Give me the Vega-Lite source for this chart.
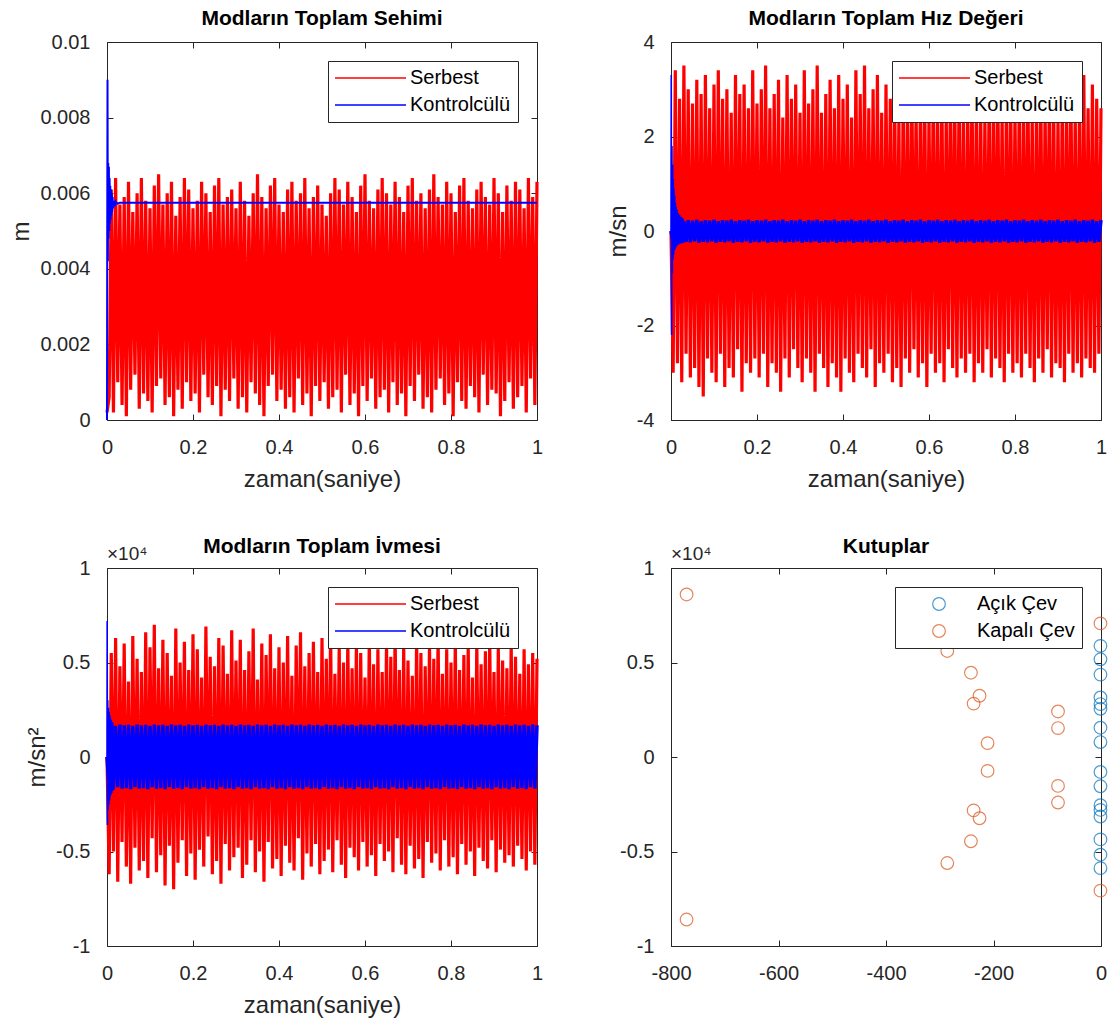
{
  "$schema": "https://vega.github.io/schema/vega-lite/v6.json",
  "background": "#ffffff",
  "padding": {"left": 9, "top": 7, "right": 10, "bottom": 10},
  "columns": 2,
  "spacing": {"row": 148, "column": 134},
  "bounds": "flush",
  "resolve": {
    "scale": {"x": "independent", "y": "independent", "color": "independent"},
    "axis": {"x": "independent", "y": "independent"},
    "legend": {"color": "independent"}
  },
  "config": {
    "view": {"stroke": "#262626", "strokeWidth": 1},
    "axis": {
      "labelFont": "Liberation Sans", "labelFontSize": 20, "labelColor": "#262626",
      "titleFont": "Liberation Sans", "titleFontSize": 24, "titleFontWeight": "normal", "titleColor": "#262626",
      "tickColor": "#262626", "tickSize": -6, "tickWidth": 1,
      "labelPadding": 23,
      "labelFlush": false, "labelOverlap": false,
      "domain": false, "grid": false
    },
    "axisX": {"titlePadding": 10},
    "axisY": {"titlePadding": 6},
    "title": {"font": "Liberation Sans", "fontSize": 21, "fontWeight": "bold", "color": "#000000", "offset": 3},
    "legend": {
      "orient": "top-right", "offset": 19, "padding": 7, "rowPadding": 7,
      "strokeColor": "#262626", "fillColor": "#ffffff",
      "labelFont": "Liberation Sans", "labelFontSize": 20, "labelColor": "#000000", "labelLimit": 400
    }
  },
  "datasets": {
    "sehim": [
      {"t":0,"s":0.0002},
      {"t":0.005,"s":0.0006},{"t":0.01,"s":0.0061},{"t":0.015,"s":0.0002},{"t":0.02,"s":0.0064},
      {"t":0.025,"s":0.001},{"t":0.03,"s":0.0057},{"t":0.035,"s":0.0004},{"t":0.04,"s":0.0059},
      {"t":0.045,"s":0.0001},{"t":0.05,"s":0.0063},{"t":0.055,"s":0.0008},{"t":0.06,"s":0.0055},
      {"t":0.065,"s":0.0012},{"t":0.07,"s":0.006},{"t":0.075,"s":0.0003},{"t":0.08,"s":0.0064},
      {"t":0.085,"s":0.0007},{"t":0.09,"s":0.0058},{"t":0.095,"s":0.0005},{"t":0.1,"s":0.0056},
      {"t":0.105,"s":0.0002},{"t":0.11,"s":0.0062},{"t":0.115,"s":0.0009},{"t":0.12,"s":0.0065},
      {"t":0.125,"s":0.0011},{"t":0.13,"s":0.0057},{"t":0.135,"s":0.0004},{"t":0.14,"s":0.006},
      {"t":0.145,"s":0.0006},{"t":0.15,"s":0.0063},{"t":0.155,"s":0.0001},{"t":0.16,"s":0.0054},
      {"t":0.165,"s":0.0008},{"t":0.17,"s":0.0059},{"t":0.175,"s":0.0003},{"t":0.18,"s":0.0064},
      {"t":0.185,"s":0.001},{"t":0.19,"s":0.0061},{"t":0.195,"s":0.0005},{"t":0.2,"s":0.0056},
      {"t":0.205,"s":0.0007},{"t":0.21,"s":0.0058},{"t":0.215,"s":0.0002},{"t":0.22,"s":0.0063},
      {"t":0.225,"s":0.0012},{"t":0.23,"s":0.006},{"t":0.235,"s":0.0006},{"t":0.24,"s":0.0055},
      {"t":0.245,"s":0.0004},{"t":0.25,"s":0.0062},{"t":0.255,"s":0.0009},{"t":0.26,"s":0.0064},
      {"t":0.265,"s":0.0001},{"t":0.27,"s":0.0057},{"t":0.275,"s":0.0008},{"t":0.28,"s":0.0059},
      {"t":0.285,"s":0.0005},{"t":0.29,"s":0.0061},{"t":0.295,"s":0.0011},{"t":0.3,"s":0.0056},
      {"t":0.305,"s":0.0003},{"t":0.31,"s":0.0063},{"t":0.315,"s":0.0006},{"t":0.32,"s":0.0058},
      {"t":0.325,"s":0.0002},{"t":0.33,"s":0.0054},{"t":0.335,"s":0.001},{"t":0.34,"s":0.006},
      {"t":0.345,"s":0.0007},{"t":0.35,"s":0.0065},{"t":0.355,"s":0.0004},{"t":0.36,"s":0.0059},
      {"t":0.365,"s":0.0001},{"t":0.37,"s":0.0056},{"t":0.375,"s":0.0009},{"t":0.38,"s":0.0062},
      {"t":0.385,"s":0.0012},{"t":0.39,"s":0.0064},{"t":0.395,"s":0.0005},{"t":0.4,"s":0.0057},
      {"t":0.405,"s":0.0008},{"t":0.41,"s":0.0055},{"t":0.415,"s":0.0003},{"t":0.42,"s":0.0061},
      {"t":0.425,"s":0.0006},{"t":0.43,"s":0.0063},{"t":0.435,"s":0.0002},{"t":0.44,"s":0.0058},
      {"t":0.445,"s":0.0011},{"t":0.45,"s":0.006},{"t":0.455,"s":0.0004},{"t":0.46,"s":0.0064},
      {"t":0.465,"s":0.0007},{"t":0.47,"s":0.0056},{"t":0.475,"s":0.0001},{"t":0.48,"s":0.0059},
      {"t":0.485,"s":0.0009},{"t":0.49,"s":0.0062},{"t":0.495,"s":0.0005},{"t":0.5,"s":0.0057},
      {"t":0.505,"s":0.001},{"t":0.51,"s":0.0054},{"t":0.515,"s":0.0003},{"t":0.52,"s":0.006},
      {"t":0.525,"s":0.0006},{"t":0.53,"s":0.0064},{"t":0.535,"s":0.0008},{"t":0.54,"s":0.0061},
      {"t":0.545,"s":0.0002},{"t":0.55,"s":0.0057},{"t":0.555,"s":0.0012},{"t":0.56,"s":0.0063},
      {"t":0.565,"s":0.0004},{"t":0.57,"s":0.0059},{"t":0.575,"s":0.0007},{"t":0.58,"s":0.0055},
      {"t":0.585,"s":0.0001},{"t":0.59,"s":0.0062},{"t":0.595,"s":0.0009},{"t":0.6,"s":0.0065},
      {"t":0.605,"s":0.0005},{"t":0.61,"s":0.0058},{"t":0.615,"s":0.0011},{"t":0.62,"s":0.0056},
      {"t":0.625,"s":0.0003},{"t":0.63,"s":0.0061},{"t":0.635,"s":0.0006},{"t":0.64,"s":0.0064},
      {"t":0.645,"s":0.0008},{"t":0.65,"s":0.006},{"t":0.655,"s":0.0002},{"t":0.66,"s":0.0057},
      {"t":0.665,"s":0.001},{"t":0.67,"s":0.0063},{"t":0.675,"s":0.0004},{"t":0.68,"s":0.0059},
      {"t":0.685,"s":0.0007},{"t":0.69,"s":0.0055},{"t":0.695,"s":0.0001},{"t":0.7,"s":0.0062},
      {"t":0.705,"s":0.0009},{"t":0.71,"s":0.0064},{"t":0.715,"s":0.0005},{"t":0.72,"s":0.0058},
      {"t":0.725,"s":0.0012},{"t":0.73,"s":0.006},{"t":0.735,"s":0.0003},{"t":0.74,"s":0.0056},
      {"t":0.745,"s":0.0006},{"t":0.75,"s":0.0061},{"t":0.755,"s":0.0002},{"t":0.76,"s":0.0065},
      {"t":0.765,"s":0.0008},{"t":0.77,"s":0.0059},{"t":0.775,"s":0.0011},{"t":0.78,"s":0.0057},
      {"t":0.785,"s":0.0004},{"t":0.79,"s":0.0063},{"t":0.795,"s":0.0007},{"t":0.8,"s":0.006},
      {"t":0.805,"s":0.0001},{"t":0.81,"s":0.0055},{"t":0.815,"s":0.001},{"t":0.82,"s":0.0062},
      {"t":0.825,"s":0.0005},{"t":0.83,"s":0.0064},{"t":0.835,"s":0.0003},{"t":0.84,"s":0.0058},
      {"t":0.845,"s":0.0009},{"t":0.85,"s":0.0056},{"t":0.855,"s":0.0006},{"t":0.86,"s":0.0061},
      {"t":0.865,"s":0.0002},{"t":0.87,"s":0.0063},{"t":0.875,"s":0.0012},{"t":0.88,"s":0.0059},
      {"t":0.885,"s":0.0004},{"t":0.89,"s":0.0057},{"t":0.895,"s":0.0008},{"t":0.9,"s":0.0064},
      {"t":0.905,"s":0.0007},{"t":0.91,"s":0.006},{"t":0.915,"s":0.0001},{"t":0.92,"s":0.0055},
      {"t":0.925,"s":0.0005},{"t":0.93,"s":0.0062},{"t":0.935,"s":0.001},{"t":0.94,"s":0.0058},
      {"t":0.945,"s":0.0003},{"t":0.95,"s":0.0063},{"t":0.955,"s":0.0006},{"t":0.96,"s":0.0061},
      {"t":0.965,"s":0.0009},{"t":0.97,"s":0.0056},{"t":0.975,"s":0.0002},{"t":0.98,"s":0.0064},
      {"t":0.985,"s":0.0011},{"t":0.99,"s":0.0059},{"t":0.995,"s":0.0004},{"t":1,"s":0.0063}
    ],
    "sehimK": [
      {"t":0,"v":0},{"t":0.0005,"v":0.0045},{"t":0.0012,"v":0.009},{"t":0.002,"v":0.0042},
      {"t":0.0028,"v":0.0068},{"t":0.0036,"v":0.0048},{"t":0.0044,"v":0.0067},{"t":0.0052,"v":0.005},
      {"t":0.006,"v":0.0064},{"t":0.0068,"v":0.0052},{"t":0.0076,"v":0.0062},{"t":0.0084,"v":0.0053},
      {"t":0.0092,"v":0.0061},{"t":0.01,"v":0.0054},{"t":0.011,"v":0.006},{"t":0.012,"v":0.0055},
      {"t":0.013,"v":0.0059},{"t":0.014,"v":0.0056},{"t":0.016,"v":0.0058},{"t":0.018,"v":0.00565},
      {"t":0.02,"v":0.00578},{"t":0.024,"v":0.00572},{"t":0.03,"v":0.00575},{"t":1,"v":0.00575}
    ],
    "hiz": [
      {"t":0,"s":0,"k":0},
      {"t":0.005,"s":-3,"k":-0.24},{"t":0.01,"s":3.4,"k":0.22},
      {"t":0.015,"s":-2.8,"k":-0.22},{"t":0.02,"s":2.8,"k":0.24},
      {"t":0.025,"s":-3.2,"k":-0.25},{"t":0.03,"s":3.5,"k":0.21},
      {"t":0.035,"s":-2.6,"k":-0.23},{"t":0.04,"s":3,"k":0.23},
      {"t":0.045,"s":-3.1,"k":-0.24},{"t":0.05,"s":2.7,"k":0.22},
      {"t":0.055,"s":-2.9,"k":-0.22},{"t":0.06,"s":3.2,"k":0.24},
      {"t":0.065,"s":-3.3,"k":-0.25},{"t":0.07,"s":2.9,"k":0.21},
      {"t":0.075,"s":-3.5,"k":-0.23},{"t":0.08,"s":3.3,"k":0.23},
      {"t":0.085,"s":-2.7,"k":-0.24},{"t":0.09,"s":2.6,"k":0.22},
      {"t":0.095,"s":-3,"k":-0.22},{"t":0.1,"s":3.1,"k":0.24},
      {"t":0.105,"s":-3.2,"k":-0.25},{"t":0.11,"s":3.4,"k":0.21},
      {"t":0.115,"s":-2.6,"k":-0.23},{"t":0.12,"s":2.8,"k":0.23},
      {"t":0.125,"s":-3.3,"k":-0.24},{"t":0.13,"s":3,"k":0.22},
      {"t":0.135,"s":-2.9,"k":-0.22},{"t":0.14,"s":2.5,"k":0.24},
      {"t":0.145,"s":-3.1,"k":-0.25},{"t":0.15,"s":3.3,"k":0.21},
      {"t":0.155,"s":-2.5,"k":-0.23},{"t":0.16,"s":2.9,"k":0.23},
      {"t":0.165,"s":-3.4,"k":-0.24},{"t":0.17,"s":3.1,"k":0.22},
      {"t":0.175,"s":-2.8,"k":-0.22},{"t":0.18,"s":2.6,"k":0.24},
      {"t":0.185,"s":-3,"k":-0.25},{"t":0.19,"s":3.4,"k":0.21},
      {"t":0.195,"s":-2.7,"k":-0.23},{"t":0.2,"s":2.7,"k":0.23},
      {"t":0.205,"s":-3.1,"k":-0.24},{"t":0.21,"s":3,"k":0.22},
      {"t":0.215,"s":-2.6,"k":-0.22},{"t":0.22,"s":3.5,"k":0.24},
      {"t":0.225,"s":-3.3,"k":-0.25},{"t":0.23,"s":2.6,"k":0.21},
      {"t":0.235,"s":-2.8,"k":-0.23},{"t":0.24,"s":2.9,"k":0.23},
      {"t":0.245,"s":-3,"k":-0.24},{"t":0.25,"s":3.2,"k":0.22},
      {"t":0.255,"s":-3.4,"k":-0.22},{"t":0.26,"s":2.4,"k":0.24},
      {"t":0.265,"s":-2.7,"k":-0.25},{"t":0.27,"s":3.3,"k":0.21},
      {"t":0.275,"s":-3.1,"k":-0.23},{"t":0.28,"s":2.8,"k":0.23},
      {"t":0.285,"s":-2.5,"k":-0.24},{"t":0.29,"s":3.1,"k":0.22},
      {"t":0.295,"s":-2.9,"k":-0.22},{"t":0.3,"s":2.5,"k":0.24},
      {"t":0.305,"s":-3.2,"k":-0.25},{"t":0.31,"s":3.4,"k":0.21},
      {"t":0.315,"s":-2.7,"k":-0.23},{"t":0.32,"s":2.7,"k":0.23},
      {"t":0.325,"s":-3,"k":-0.24},{"t":0.33,"s":3,"k":0.22},
      {"t":0.335,"s":-3.4,"k":-0.22},{"t":0.34,"s":3.5,"k":0.24},
      {"t":0.345,"s":-2.6,"k":-0.25},{"t":0.35,"s":2.5,"k":0.21},
      {"t":0.355,"s":-2.9,"k":-0.23},{"t":0.36,"s":2.9,"k":0.23},
      {"t":0.365,"s":-3.3,"k":-0.24},{"t":0.37,"s":3.2,"k":0.22},
      {"t":0.375,"s":-2.8,"k":-0.22},{"t":0.38,"s":2.6,"k":0.24},
      {"t":0.385,"s":-3.1,"k":-0.25},{"t":0.39,"s":3.3,"k":0.21},
      {"t":0.395,"s":-3.4,"k":-0.23},{"t":0.4,"s":2.8,"k":0.23},
      {"t":0.405,"s":-2.7,"k":-0.24},{"t":0.41,"s":3.1,"k":0.22},
      {"t":0.415,"s":-3,"k":-0.22},{"t":0.42,"s":2.4,"k":0.24},
      {"t":0.425,"s":-3.2,"k":-0.25},{"t":0.43,"s":3.4,"k":0.21},
      {"t":0.435,"s":-2.6,"k":-0.23},{"t":0.44,"s":2.9,"k":0.23},
      {"t":0.445,"s":-2.9,"k":-0.24},{"t":0.45,"s":3.5,"k":0.22},
      {"t":0.455,"s":-3.1,"k":-0.22},{"t":0.46,"s":2.6,"k":0.24},
      {"t":0.465,"s":-2.5,"k":-0.25},{"t":0.47,"s":3,"k":0.21},
      {"t":0.475,"s":-3.3,"k":-0.23},{"t":0.48,"s":3.3,"k":0.23},
      {"t":0.485,"s":-2.8,"k":-0.24},{"t":0.49,"s":2.5,"k":0.22},
      {"t":0.495,"s":-3,"k":-0.22},{"t":0.5,"s":3.1,"k":0.24},
      {"t":0.505,"s":-2.6,"k":-0.25},{"t":0.51,"s":2.8,"k":0.21},
      {"t":0.515,"s":-3.2,"k":-0.23},{"t":0.52,"s":3.2,"k":0.23},
      {"t":0.525,"s":-2.9,"k":-0.24},{"t":0.53,"s":2.4,"k":0.22},
      {"t":0.535,"s":-3.3,"k":-0.22},{"t":0.54,"s":3,"k":0.24},
      {"t":0.545,"s":-2.7,"k":-0.25},{"t":0.55,"s":2.7,"k":0.21},
      {"t":0.555,"s":-3,"k":-0.23},{"t":0.56,"s":3.3,"k":0.23},
      {"t":0.565,"s":-2.5,"k":-0.24},{"t":0.57,"s":2.6,"k":0.22},
      {"t":0.575,"s":-3.1,"k":-0.22},{"t":0.58,"s":2.9,"k":0.24},
      {"t":0.585,"s":-2.8,"k":-0.25},{"t":0.59,"s":3.1,"k":0.21},
      {"t":0.595,"s":-3.3,"k":-0.23},{"t":0.6,"s":2.5,"k":0.23},
      {"t":0.605,"s":-2.6,"k":-0.24},{"t":0.61,"s":3.2,"k":0.22},
      {"t":0.615,"s":-3,"k":-0.22},{"t":0.62,"s":2.7,"k":0.24},
      {"t":0.625,"s":-2.8,"k":-0.25},{"t":0.63,"s":3,"k":0.21},
      {"t":0.635,"s":-3.2,"k":-0.23},{"t":0.64,"s":2.5,"k":0.23},
      {"t":0.645,"s":-2.5,"k":-0.24},{"t":0.65,"s":3.3,"k":0.22},
      {"t":0.655,"s":-2.9,"k":-0.22},{"t":0.66,"s":2.8,"k":0.24},
      {"t":0.665,"s":-3.1,"k":-0.25},{"t":0.67,"s":3.1,"k":0.21},
      {"t":0.675,"s":-2.7,"k":-0.23},{"t":0.68,"s":2.6,"k":0.23},
      {"t":0.685,"s":-3,"k":-0.24},{"t":0.69,"s":2.9,"k":0.22},
      {"t":0.695,"s":-2.6,"k":-0.22},{"t":0.7,"s":3.2,"k":0.24},
      {"t":0.705,"s":-3.2,"k":-0.25},{"t":0.71,"s":2.6,"k":0.21},
      {"t":0.715,"s":-2.8,"k":-0.23},{"t":0.72,"s":3,"k":0.23},
      {"t":0.725,"s":-3,"k":-0.24},{"t":0.73,"s":2.4,"k":0.22},
      {"t":0.735,"s":-2.5,"k":-0.22},{"t":0.74,"s":3.1,"k":0.24},
      {"t":0.745,"s":-3.1,"k":-0.25},{"t":0.75,"s":2.8,"k":0.21},
      {"t":0.755,"s":-2.7,"k":-0.23},{"t":0.76,"s":3.2,"k":0.23},
      {"t":0.765,"s":-2.9,"k":-0.24},{"t":0.77,"s":2.5,"k":0.22},
      {"t":0.775,"s":-3.2,"k":-0.22},{"t":0.78,"s":2.9,"k":0.24},
      {"t":0.785,"s":-2.6,"k":-0.25},{"t":0.79,"s":3,"k":0.21},
      {"t":0.795,"s":-3,"k":-0.23},{"t":0.8,"s":2.6,"k":0.23},
      {"t":0.805,"s":-2.8,"k":-0.24},{"t":0.81,"s":3.1,"k":0.22},
      {"t":0.815,"s":-3.1,"k":-0.22},{"t":0.82,"s":2.7,"k":0.24},
      {"t":0.825,"s":-2.6,"k":-0.25},{"t":0.83,"s":3.2,"k":0.21},
      {"t":0.835,"s":-2.9,"k":-0.23},{"t":0.84,"s":2.5,"k":0.23},
      {"t":0.845,"s":-3.2,"k":-0.24},{"t":0.85,"s":2.9,"k":0.22},
      {"t":0.855,"s":-2.7,"k":-0.22},{"t":0.86,"s":3,"k":0.24},
      {"t":0.865,"s":-3,"k":-0.25},{"t":0.87,"s":2.6,"k":0.21},
      {"t":0.875,"s":-2.5,"k":-0.23},{"t":0.88,"s":3.2,"k":0.23},
      {"t":0.885,"s":-3.1,"k":-0.24},{"t":0.89,"s":2.8,"k":0.22},
      {"t":0.895,"s":-2.8,"k":-0.22},{"t":0.9,"s":2.4,"k":0.24},
      {"t":0.905,"s":-2.9,"k":-0.25},{"t":0.91,"s":3,"k":0.21},
      {"t":0.915,"s":-3.2,"k":-0.23},{"t":0.92,"s":2.7,"k":0.23},
      {"t":0.925,"s":-2.6,"k":-0.24},{"t":0.93,"s":3.2,"k":0.22},
      {"t":0.935,"s":-3,"k":-0.22},{"t":0.94,"s":2.5,"k":0.24},
      {"t":0.945,"s":-2.8,"k":-0.25},{"t":0.95,"s":2.9,"k":0.21},
      {"t":0.955,"s":-3.1,"k":-0.23},{"t":0.96,"s":3.3,"k":0.23},
      {"t":0.965,"s":-2.7,"k":-0.24},{"t":0.97,"s":2.6,"k":0.22},
      {"t":0.975,"s":-2.9,"k":-0.22},{"t":0.98,"s":3.1,"k":0.24},
      {"t":0.985,"s":-3,"k":-0.25},{"t":0.99,"s":2.8,"k":0.21},
      {"t":0.995,"s":-2.6,"k":-0.23},{"t":1,"s":2.6,"k":0.23}
    ],
    "hizK": [
      {"t":0,"v":0},{"t":0.0006,"v":3.3},{"t":0.0014,"v":-2.2},{"t":0.0022,"v":1.8},
      {"t":0.003,"v":-0.9},{"t":0.0038,"v":1.4},{"t":0.0046,"v":-0.6},{"t":0.0054,"v":1.1},
      {"t":0.0062,"v":-0.5},{"t":0.007,"v":0.9},{"t":0.0078,"v":-0.42},{"t":0.0086,"v":0.75},
      {"t":0.0094,"v":-0.38},{"t":0.0102,"v":0.6},{"t":0.011,"v":-0.35},{"t":0.012,"v":0.52},
      {"t":0.013,"v":-0.32},{"t":0.014,"v":0.45},{"t":0.0155,"v":-0.3},{"t":0.017,"v":0.38},
      {"t":0.0185,"v":-0.28},{"t":0.02,"v":0.34},{"t":0.022,"v":-0.27},{"t":0.024,"v":0.3},
      {"t":0.026,"v":-0.26},{"t":0.028,"v":0.27},{"t":0.03,"v":-0.25}
    ],
    "ivme": [
      {"t":0,"s":0,"k":0},
      {"t":0.005,"s":-6200,"k":-1650},{"t":0.01,"s":5500,"k":1700},
      {"t":0.015,"s":-5000,"k":-1700},{"t":0.02,"s":6300,"k":1650},
      {"t":0.025,"s":-6600,"k":-1600},{"t":0.03,"s":4800,"k":1720},
      {"t":0.035,"s":-4500,"k":-1680},{"t":0.04,"s":6000,"k":1680},
      {"t":0.045,"s":-5800,"k":-1650},{"t":0.05,"s":4000,"k":1700},
      {"t":0.055,"s":-6700,"k":-1700},{"t":0.06,"s":6400,"k":1650},
      {"t":0.065,"s":-4800,"k":-1600},{"t":0.07,"s":5200,"k":1720},
      {"t":0.075,"s":-6000,"k":-1680},{"t":0.08,"s":4500,"k":1680},
      {"t":0.085,"s":-5500,"k":-1650},{"t":0.09,"s":6600,"k":1700},
      {"t":0.095,"s":-6400,"k":-1700},{"t":0.1,"s":5800,"k":1650},
      {"t":0.105,"s":-4300,"k":-1600},{"t":0.11,"s":7000,"k":1720},
      {"t":0.115,"s":-6100,"k":-1680},{"t":0.12,"s":4700,"k":1680},
      {"t":0.125,"s":-5200,"k":-1650},{"t":0.13,"s":6200,"k":1700},
      {"t":0.135,"s":-6800,"k":-1700},{"t":0.14,"s":5500,"k":1650},
      {"t":0.145,"s":-4700,"k":-1600},{"t":0.15,"s":4300,"k":1720},
      {"t":0.155,"s":-7000,"k":-1680},{"t":0.16,"s":6800,"k":1680},
      {"t":0.165,"s":-5600,"k":-1650},{"t":0.17,"s":5000,"k":1700},
      {"t":0.175,"s":-4400,"k":-1700},{"t":0.18,"s":6100,"k":1650},
      {"t":0.185,"s":-6300,"k":-1600},{"t":0.19,"s":4600,"k":1720},
      {"t":0.195,"s":-5100,"k":-1680},{"t":0.2,"s":6500,"k":1680},
      {"t":0.205,"s":-6500,"k":-1650},{"t":0.21,"s":5700,"k":1700},
      {"t":0.215,"s":-4900,"k":-1700},{"t":0.22,"s":4200,"k":1650},
      {"t":0.225,"s":-5800,"k":-1600},{"t":0.23,"s":6900,"k":1720},
      {"t":0.235,"s":-4200,"k":-1680},{"t":0.24,"s":5300,"k":1680},
      {"t":0.245,"s":-6200,"k":-1650},{"t":0.25,"s":4800,"k":1700},
      {"t":0.255,"s":-5500,"k":-1700},{"t":0.26,"s":6300,"k":1650},
      {"t":0.265,"s":-6700,"k":-1600},{"t":0.27,"s":5900,"k":1720},
      {"t":0.275,"s":-4600,"k":-1680},{"t":0.28,"s":4400,"k":1680},
      {"t":0.285,"s":-6000,"k":-1650},{"t":0.29,"s":6700,"k":1700},
      {"t":0.295,"s":-5300,"k":-1700},{"t":0.3,"s":5100,"k":1650},
      {"t":0.305,"s":-4800,"k":-1600},{"t":0.31,"s":6200,"k":1720},
      {"t":0.315,"s":-6400,"k":-1680},{"t":0.32,"s":4600,"k":1680},
      {"t":0.325,"s":-5700,"k":-1650},{"t":0.33,"s":5600,"k":1700},
      {"t":0.335,"s":-4400,"k":-1700},{"t":0.34,"s":6800,"k":1650},
      {"t":0.345,"s":-6100,"k":-1600},{"t":0.35,"s":4100,"k":1720},
      {"t":0.355,"s":-5000,"k":-1680},{"t":0.36,"s":6000,"k":1680},
      {"t":0.365,"s":-6600,"k":-1650},{"t":0.37,"s":5400,"k":1700},
      {"t":0.375,"s":-4500,"k":-1700},{"t":0.38,"s":6500,"k":1650},
      {"t":0.385,"s":-5900,"k":-1600},{"t":0.39,"s":4700,"k":1720},
      {"t":0.395,"s":-5400,"k":-1680},{"t":0.4,"s":5800,"k":1680},
      {"t":0.405,"s":-6300,"k":-1650},{"t":0.41,"s":5000,"k":1700},
      {"t":0.415,"s":-4700,"k":-1700},{"t":0.42,"s":6400,"k":1650},
      {"t":0.425,"s":-5600,"k":-1600},{"t":0.43,"s":4300,"k":1720},
      {"t":0.435,"s":-6000,"k":-1680},{"t":0.44,"s":5900,"k":1680},
      {"t":0.445,"s":-4300,"k":-1650},{"t":0.45,"s":6600,"k":1700},
      {"t":0.455,"s":-6500,"k":-1700},{"t":0.46,"s":4800,"k":1650},
      {"t":0.465,"s":-5100,"k":-1600},{"t":0.47,"s":5500,"k":1720},
      {"t":0.475,"s":-5800,"k":-1680},{"t":0.48,"s":6100,"k":1680},
      {"t":0.485,"s":-4600,"k":-1650},{"t":0.49,"s":4500,"k":1700},
      {"t":0.495,"s":-6200,"k":-1700},{"t":0.5,"s":6300,"k":1650},
      {"t":0.505,"s":-5500,"k":-1600},{"t":0.51,"s":5200,"k":1720},
      {"t":0.515,"s":-4900,"k":-1680},{"t":0.52,"s":6700,"k":1680},
      {"t":0.525,"s":-6100,"k":-1650},{"t":0.53,"s":4400,"k":1700},
      {"t":0.535,"s":-4400,"k":-1700},{"t":0.54,"s":5800,"k":1650},
      {"t":0.545,"s":-5700,"k":-1600},{"t":0.55,"s":5000,"k":1720},
      {"t":0.555,"s":-6400,"k":-1680},{"t":0.56,"s":6200,"k":1680},
      {"t":0.565,"s":-4800,"k":-1650},{"t":0.57,"s":4700,"k":1700},
      {"t":0.575,"s":-5300,"k":-1700},{"t":0.58,"s":6000,"k":1650},
      {"t":0.585,"s":-6000,"k":-1600},{"t":0.59,"s":5500,"k":1720},
      {"t":0.595,"s":-4500,"k":-1680},{"t":0.6,"s":4200,"k":1680},
      {"t":0.605,"s":-5800,"k":-1650},{"t":0.61,"s":6400,"k":1700},
      {"t":0.615,"s":-5200,"k":-1700},{"t":0.62,"s":4900,"k":1650},
      {"t":0.625,"s":-6300,"k":-1600},{"t":0.63,"s":5700,"k":1720},
      {"t":0.635,"s":-4600,"k":-1680},{"t":0.64,"s":4500,"k":1680},
      {"t":0.645,"s":-5500,"k":-1650},{"t":0.65,"s":6100,"k":1700},
      {"t":0.655,"s":-5000,"k":-1700},{"t":0.66,"s":5300,"k":1650},
      {"t":0.665,"s":-6100,"k":-1600},{"t":0.67,"s":6600,"k":1720},
      {"t":0.675,"s":-4300,"k":-1680},{"t":0.68,"s":4600,"k":1680},
      {"t":0.685,"s":-5700,"k":-1650},{"t":0.69,"s":5900,"k":1700},
      {"t":0.695,"s":-6200,"k":-1700},{"t":0.7,"s":5100,"k":1650},
      {"t":0.705,"s":-4700,"k":-1600},{"t":0.71,"s":4300,"k":1720},
      {"t":0.715,"s":-5900,"k":-1680},{"t":0.72,"s":6300,"k":1680},
      {"t":0.725,"s":-5400,"k":-1650},{"t":0.73,"s":5500,"k":1700},
      {"t":0.735,"s":-6400,"k":-1700},{"t":0.74,"s":4800,"k":1650},
      {"t":0.745,"s":-4500,"k":-1600},{"t":0.75,"s":6000,"k":1720},
      {"t":0.755,"s":-5600,"k":-1680},{"t":0.76,"s":5200,"k":1680},
      {"t":0.765,"s":-5100,"k":-1650},{"t":0.77,"s":6500,"k":1700},
      {"t":0.775,"s":-6000,"k":-1700},{"t":0.78,"s":4400,"k":1650},
      {"t":0.785,"s":-4400,"k":-1600},{"t":0.79,"s":5700,"k":1720},
      {"t":0.795,"s":-5800,"k":-1680},{"t":0.8,"s":5000,"k":1680},
      {"t":0.805,"s":-5300,"k":-1650},{"t":0.81,"s":6200,"k":1700},
      {"t":0.815,"s":-6200,"k":-1700},{"t":0.82,"s":4600,"k":1650},
      {"t":0.825,"s":-4600,"k":-1600},{"t":0.83,"s":5400,"k":1720},
      {"t":0.835,"s":-5700,"k":-1680},{"t":0.84,"s":5900,"k":1680},
      {"t":0.845,"s":-5000,"k":-1650},{"t":0.85,"s":4200,"k":1700},
      {"t":0.855,"s":-6300,"k":-1700},{"t":0.86,"s":6100,"k":1650},
      {"t":0.865,"s":-4800,"k":-1600},{"t":0.87,"s":4900,"k":1720},
      {"t":0.875,"s":-5500,"k":-1680},{"t":0.88,"s":5600,"k":1680},
      {"t":0.885,"s":-5900,"k":-1650},{"t":0.89,"s":6300,"k":1700},
      {"t":0.895,"s":-4400,"k":-1700},{"t":0.9,"s":4500,"k":1650},
      {"t":0.905,"s":-6100,"k":-1600},{"t":0.91,"s":5800,"k":1720},
      {"t":0.915,"s":-4900,"k":-1680},{"t":0.92,"s":5100,"k":1680},
      {"t":0.925,"s":-5600,"k":-1650},{"t":0.93,"s":4700,"k":1700},
      {"t":0.935,"s":-5200,"k":-1700},{"t":0.94,"s":6000,"k":1650},
      {"t":0.945,"s":-5800,"k":-1600},{"t":0.95,"s":5300,"k":1720},
      {"t":0.955,"s":-4700,"k":-1680},{"t":0.96,"s":4400,"k":1680},
      {"t":0.965,"s":-5400,"k":-1650},{"t":0.97,"s":5700,"k":1700},
      {"t":0.975,"s":-6000,"k":-1700},{"t":0.98,"s":4900,"k":1650},
      {"t":0.985,"s":-5000,"k":-1600},{"t":0.99,"s":5500,"k":1720},
      {"t":0.995,"s":-5700,"k":-1680},{"t":1,"s":5200,"k":1680}
    ],
    "ivmeK": [
      {"t":0,"v":0},{"t":0.0004,"v":7200},{"t":0.001,"v":-3600},{"t":0.0018,"v":3000},
      {"t":0.0026,"v":-2800},{"t":0.0034,"v":2600},{"t":0.0042,"v":-2500},{"t":0.005,"v":2400},
      {"t":0.0058,"v":-2300},{"t":0.0066,"v":2200},{"t":0.0074,"v":-2100},{"t":0.0082,"v":2050},
      {"t":0.009,"v":-2000},{"t":0.01,"v":1950},{"t":0.011,"v":-1900},{"t":0.012,"v":1850},
      {"t":0.013,"v":-1800},{"t":0.014,"v":1780},{"t":0.015,"v":-1750}
    ],
    "acik": [
      {"re":-1,"im":5880},{"re":-1,"im":5170},{"re":-1,"im":4360},{"re":-1,"im":3150},
      {"re":-1,"im":2800},{"re":-1,"im":2550},{"re":-1,"im":1550},{"re":-1,"im":790},
      {"re":-1,"im":-790},{"re":-1,"im":-1550},{"re":-1,"im":-2550},{"re":-1,"im":-2800},
      {"re":-1,"im":-3150},{"re":-1,"im":-4360},{"re":-1,"im":-5170},{"re":-1,"im":-5880}
    ],
    "kapali": [
      {"re":-771,"im":8600},{"re":-771,"im":-8600},{"re":-286,"im":5610},{"re":-286,"im":-5610},
      {"re":-242,"im":4460},{"re":-242,"im":-4460},{"re":-226,"im":3240},{"re":-226,"im":-3240},
      {"re":-237,"im":2825},{"re":-237,"im":-2825},{"re":-211,"im":735},{"re":-211,"im":-735},
      {"re":-80,"im":2410},{"re":-80,"im":-2410},{"re":-80,"im":1530},{"re":-80,"im":-1530},
      {"re":-1,"im":7070},{"re":-1,"im":-7070}
    ]
  },
  "concat": [
    {
      "width": 430, "height": 378,
      "title": {"text": "Modların Toplam Sehimi"},
      "resolve": {"axis": {"x": "independent", "y": "independent"}},
      "layer": [
        {
          "data": {"name": "sehim"},
          "mark": {"type": "line", "strokeWidth": 3.2},
          "encoding": {
            "x": {"field": "t", "type": "quantitative", "scale": {"domain": [0, 1], "nice": false, "zero": false},
                  "axis": {"values": [0, 0.2, 0.4, 0.6, 0.8, 1], "title": "zaman(saniye)", "labelExpr": "'' + datum.value"}},
            "y": {"field": "s", "type": "quantitative", "scale": {"domain": [0, 0.01], "nice": false, "zero": false},
                  "axis": {"values": [0, 0.002, 0.004, 0.006, 0.008, 0.01], "title": "m", "labelExpr": "'' + datum.value"}},
            "color": {"datum": "Serbest",
                      "scale": {"domain": ["Serbest", "Kontrolcülü"], "range": ["#ff0000", "#0000ff"]},
                      "legend": {"title": null, "symbolType": "M-2,0H12.2", "symbolSize": 100, "symbolStrokeWidth": 1.5, "symbolOffset": 0, "labelOffset": 55}}
          }
        },
        {
          "data": {"name": "sehimK"},
          "mark": {"type": "line", "strokeWidth": 2},
          "encoding": {
            "x": {"field": "t", "type": "quantitative", "axis": {"orient": "top", "values": [0, 0.2, 0.4, 0.6, 0.8, 1], "labels": false, "title": null}},
            "y": {"field": "v", "type": "quantitative", "axis": {"orient": "right", "values": [0, 0.002, 0.004, 0.006, 0.008, 0.01], "labels": false, "title": null}},
            "color": {"datum": "Kontrolcülü"}
          }
        }
      ]
    },
    {
      "width": 430, "height": 378,
      "title": {"text": "Modların Toplam Hız Değeri"},
      "resolve": {"axis": {"x": "independent", "y": "independent"}},
      "layer": [
        {
          "data": {"name": "hiz"},
          "mark": {"type": "line", "strokeWidth": 3.2},
          "encoding": {
            "x": {"field": "t", "type": "quantitative", "scale": {"domain": [0, 1], "nice": false, "zero": false},
                  "axis": {"values": [0, 0.2, 0.4, 0.6, 0.8, 1], "title": "zaman(saniye)", "labelExpr": "'' + datum.value"}},
            "y": {"field": "s", "type": "quantitative", "scale": {"domain": [-4, 4], "nice": false, "zero": false},
                  "axis": {"values": [-4, -2, 0, 2, 4], "title": "m/sn", "labelExpr": "'' + datum.value"}},
            "color": {"datum": "Serbest",
                      "scale": {"domain": ["Serbest", "Kontrolcülü"], "range": ["#ff0000", "#0000ff"]},
                      "legend": {"title": null, "symbolType": "M-2,0H12.2", "symbolSize": 100, "symbolStrokeWidth": 1.5, "symbolOffset": 0, "labelOffset": 55}}
          }
        },
        {
          "data": {"name": "hiz"},
          "mark": {"type": "line", "strokeWidth": 3.5},
          "encoding": {
            "x": {"field": "t", "type": "quantitative", "axis": {"orient": "top", "values": [0, 0.2, 0.4, 0.6, 0.8, 1], "labels": false, "title": null}},
            "y": {"field": "k", "type": "quantitative", "axis": {"orient": "right", "values": [-4, -2, 0, 2, 4], "labels": false, "title": null}},
            "color": {"datum": "Kontrolcülü"}
          }
        },
        {
          "data": {"name": "hizK"},
          "mark": {"type": "line", "strokeWidth": 1.6},
          "encoding": {
            "x": {"field": "t", "type": "quantitative", "axis": null},
            "y": {"field": "v", "type": "quantitative", "axis": null},
            "color": {"datum": "Kontrolcülü"}
          }
        }
      ]
    },
    {
      "width": 430, "height": 378,
      "title": {"text": "Modların Toplam İvmesi", "offset": -12},
      "resolve": {"axis": {"x": "independent", "y": "independent"}},
      "layer": [
        {
          "data": {"name": "ivme"},
          "mark": {"type": "line", "strokeWidth": 3.2},
          "encoding": {
            "x": {"field": "t", "type": "quantitative", "scale": {"domain": [0, 1], "nice": false, "zero": false},
                  "axis": {"values": [0, 0.2, 0.4, 0.6, 0.8, 1], "title": "zaman(saniye)", "labelExpr": "'' + datum.value"}},
            "y": {"field": "s", "type": "quantitative", "scale": {"domain": [-10000, 10000], "nice": false, "zero": false},
                  "axis": {"values": [-10000, -5000, 0, 5000, 10000], "title": "m/sn²", "labelExpr": "'' + (datum.value / 10000)"}},
            "color": {"datum": "Serbest",
                      "scale": {"domain": ["Serbest", "Kontrolcülü"], "range": ["#ff0000", "#0000ff"]},
                      "legend": {"title": null, "symbolType": "M-2,0H12.2", "symbolSize": 100, "symbolStrokeWidth": 1.5, "symbolOffset": 0, "labelOffset": 55}}
          }
        },
        {
          "data": {"name": "ivme"},
          "mark": {"type": "line", "strokeWidth": 3.5},
          "encoding": {
            "x": {"field": "t", "type": "quantitative", "axis": {"orient": "top", "values": [0, 0.2, 0.4, 0.6, 0.8, 1], "labels": false, "title": null}},
            "y": {"field": "k", "type": "quantitative", "axis": {"orient": "right", "values": [-10000, -5000, 0, 5000, 10000], "labels": false, "title": null}},
            "color": {"datum": "Kontrolcülü"}
          }
        },
        {
          "data": {"name": "ivmeK"},
          "mark": {"type": "line", "strokeWidth": 1.6},
          "encoding": {
            "x": {"field": "t", "type": "quantitative", "axis": null},
            "y": {"field": "v", "type": "quantitative", "axis": null},
            "color": {"datum": "Kontrolcülü"}
          }
        },
        {
          "data": {"values": [{}]},
          "mark": {"type": "text", "text": "×10⁴", "align": "left", "baseline": "bottom", "dy": -4, "font": "Liberation Sans", "fontSize": 19, "color": "#262626"},
          "encoding": {
            "x": {"datum": 0, "type": "quantitative", "axis": null},
            "y": {"datum": 10000, "type": "quantitative", "axis": null}
          }
        }
      ]
    },
    {
      "width": 430, "height": 378,
      "title": {"text": "Kutuplar", "offset": -12},
      "resolve": {"axis": {"x": "independent", "y": "independent"}},
      "layer": [
        {
          "data": {"name": "acik"},
          "mark": {"type": "point", "shape": "circle", "filled": false, "size": 160, "strokeWidth": 1.2},
          "encoding": {
            "x": {"field": "re", "type": "quantitative", "scale": {"domain": [-800, 0], "nice": false, "zero": false},
                  "axis": {"values": [-800, -600, -400, -200, 0], "title": null, "labelExpr": "'' + datum.value"}},
            "y": {"field": "im", "type": "quantitative", "scale": {"domain": [-10000, 10000], "nice": false, "zero": false},
                  "axis": {"values": [-10000, -5000, 0, 5000, 10000], "title": null, "labelExpr": "'' + (datum.value / 10000)"}},
            "color": {"datum": "Açık Çev",
                      "scale": {"domain": ["Açık Çev", "Kapalı Çev"], "range": ["#0072BD", "#D95319"]},
                      "legend": {"title": null, "symbolType": "circle", "symbolSize": 160, "symbolStrokeWidth": 1.2, "symbolOffset": 27, "labelOffset": 28}}
          }
        },
        {
          "data": {"name": "kapali"},
          "mark": {"type": "point", "shape": "circle", "filled": false, "size": 160, "strokeWidth": 1.2},
          "encoding": {
            "x": {"field": "re", "type": "quantitative", "axis": {"orient": "top", "values": [-800, -600, -400, -200, 0], "labels": false, "title": null}},
            "y": {"field": "im", "type": "quantitative", "axis": {"orient": "right", "values": [-10000, -5000, 0, 5000, 10000], "labels": false, "title": null}},
            "color": {"datum": "Kapalı Çev"}
          }
        },
        {
          "data": {"values": [{}]},
          "mark": {"type": "text", "text": "×10⁴", "align": "left", "baseline": "bottom", "dy": -4, "font": "Liberation Sans", "fontSize": 19, "color": "#262626"},
          "encoding": {
            "x": {"datum": -800, "type": "quantitative", "axis": null},
            "y": {"datum": 10000, "type": "quantitative", "axis": null}
          }
        }
      ]
    }
  ]
}
